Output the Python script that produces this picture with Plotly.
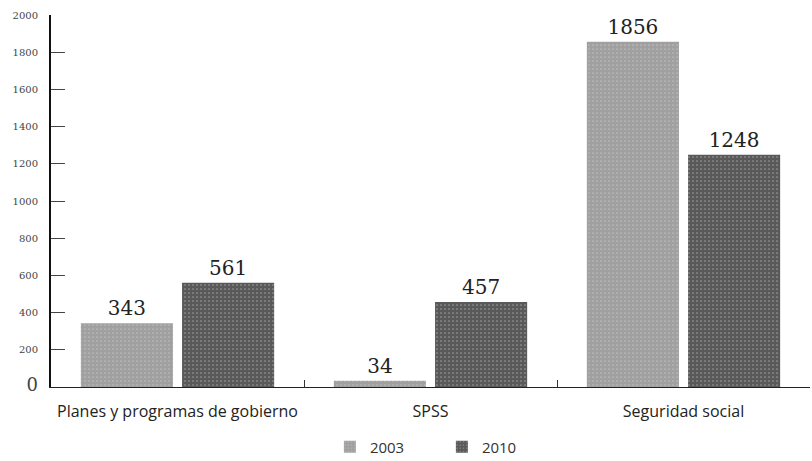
import plotly.graph_objects as go

categories = ["Planes y programas de gobierno", "SPSS", "Seguridad social"]
series_names = ["2003", "2010"]
values_2003 = [343, 34, 1856]
values_2010 = [561, 457, 1248]
tick_values = [0, 200, 400, 600, 800, 1000, 1200, 1400, 1600, 1800, 2000]
tick_labels = ["<span style='font-size:18px'>0</span>"] + [str(v) for v in tick_values[1:]]

colors = ["#a0a0a0", "#595959"]

fig = go.Figure()
for name, vals, col in zip(series_names, [values_2003, values_2010], colors):
    fig.add_trace(go.Bar(
        x=categories, y=vals, name=name,
        marker=dict(color=col, line=dict(width=0),
                    pattern=dict(shape=".", fgcolor="#d8d8d8", size=4, solidity=0.15)),
        text=[str(v) for v in vals], textposition="outside",
        textfont=dict(family="DejaVu Serif", size=20, color="#222222"),
        cliponaxis=False,
    ))

fig.update_layout(
    width=812, height=461,
    margin=dict(l=51, r=2, t=15, b=74, autoexpand=False),
    paper_bgcolor="white", plot_bgcolor="white",
    barmode="group", bargap=0.2, bargroupgap=0.09,
    showlegend=True,
    legend=dict(orientation="h", x=0.515, xanchor="center", y=-0.161, yanchor="middle",
                font=dict(family="Open Sans", size=15, color="#333333"),
                entrywidth=67, entrywidthmode="pixels", traceorder="normal"),
    font=dict(family="Open Sans", color="#222222"),
)
fig.update_yaxes(
    range=[0, 2000], tickvals=tick_values, ticktext=tick_labels,
    showgrid=False, zeroline=False,
    showline=True, linecolor="#111111", linewidth=2,
    ticks="inside", ticklen=14, tickcolor="#444444", tickwidth=1,
    tickfont=dict(family="DejaVu Serif", size=10, color="#444444"),
    ticklabelstandoff=9,
)
fig.update_xaxes(
    showline=True, linecolor="#222222", linewidth=1,
    ticks="inside", tickson="boundaries", ticklen=7, tickcolor="#333333",
    showgrid=False, tickangle=0,
    tickfont=dict(family="Open Sans", size=16, color="#222222"),
    ticklabelstandoff=10,
)

fig.write_html("out.html", post_script="document.body.style.margin='0px';",
               config={"displayModeBar": False})
